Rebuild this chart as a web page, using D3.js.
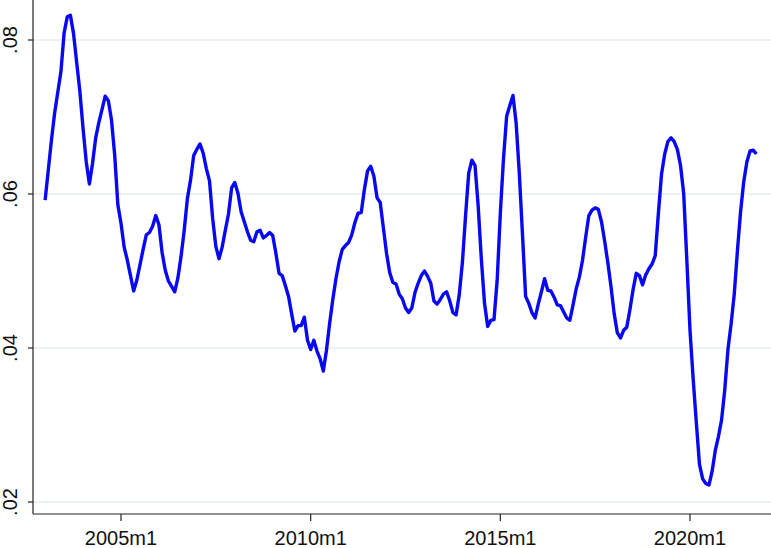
<!DOCTYPE html>
<html>
<head>
<meta charset="utf-8">
<script src="https://cdn.jsdelivr.net/npm/d3@7"></script>
<style>
  html, body { margin: 0; padding: 0; background: #ffffff; }
  svg { display: block; }
  text { font-family: Arial, "Liberation Sans", sans-serif; fill: #111; }
</style>
</head>
<body>
<svg id="chart" width="771" height="548"></svg>
<script>
// Monthly series, 2003m1 .. 2021m10 (month index 0 = 2003m1)
const startYear = 2003;
const values = [
  0.0592, 0.0631, 0.0670, 0.0705, 0.0732, 0.0759, 0.0809, 0.0830, 0.0832, 0.0808,
  0.0770, 0.0733, 0.0685, 0.0642, 0.0613, 0.0640, 0.0673, 0.0693, 0.0710, 0.0727,
  0.0721, 0.0696, 0.0651, 0.0586, 0.0562, 0.0531, 0.0514, 0.0494, 0.0474, 0.0488,
  0.0508, 0.0528, 0.0547, 0.0550, 0.0558, 0.0572, 0.0560, 0.0524, 0.0501, 0.0487,
  0.0480, 0.0473, 0.0491, 0.0519, 0.0553, 0.0594, 0.0618, 0.0650, 0.0658, 0.0665,
  0.0653, 0.0633, 0.0617, 0.0568, 0.0532, 0.0516, 0.0531, 0.0553, 0.0574, 0.0608,
  0.0615, 0.0601, 0.0577, 0.0564, 0.0551, 0.0540, 0.0538, 0.0551, 0.0553, 0.0543,
  0.0546, 0.0550, 0.0546, 0.0523, 0.0497, 0.0494, 0.0481, 0.0467, 0.0444, 0.0422,
  0.0429, 0.0429, 0.0440, 0.0410, 0.0398, 0.0410, 0.0396, 0.0386, 0.0370, 0.0397,
  0.0432, 0.0463, 0.0490, 0.0512, 0.0528, 0.0533, 0.0537, 0.0547, 0.0563, 0.0575,
  0.0576, 0.0606, 0.0630, 0.0636, 0.0623, 0.0595, 0.0589, 0.0556, 0.0523, 0.0498,
  0.0485, 0.0483, 0.0470, 0.0464, 0.0452, 0.0446, 0.0452, 0.0472, 0.0484, 0.0494,
  0.0500, 0.0493, 0.0484, 0.0461, 0.0457, 0.0463, 0.0470, 0.0473, 0.0461, 0.0446,
  0.0443, 0.0469, 0.0511, 0.0572, 0.0627, 0.0644, 0.0637, 0.0584, 0.0515, 0.0458,
  0.0428, 0.0436, 0.0437, 0.0488, 0.0575, 0.0646, 0.0701, 0.0715, 0.0728, 0.0692,
  0.0627, 0.0548, 0.0467, 0.0458, 0.0446, 0.0439, 0.0457, 0.0473, 0.0490, 0.0475,
  0.0474, 0.0466, 0.0456, 0.0455, 0.0447, 0.0439, 0.0436, 0.0456, 0.0477, 0.0492,
  0.0514, 0.0544, 0.0572, 0.0579, 0.0582, 0.0580, 0.0564, 0.0539, 0.0511, 0.0480,
  0.0445, 0.0420, 0.0413, 0.0423, 0.0427, 0.0450, 0.0476, 0.0497, 0.0494, 0.0482,
  0.0495, 0.0503, 0.0509, 0.0520, 0.0575, 0.0626, 0.0652, 0.0668, 0.0673, 0.0668,
  0.0658, 0.0637, 0.0601, 0.0514, 0.0423, 0.0360, 0.0303, 0.0249, 0.0230, 0.0224,
  0.0222, 0.0240, 0.0267, 0.0285, 0.0307, 0.0346, 0.0398, 0.0431, 0.0470, 0.0526,
  0.0577, 0.0616, 0.0642, 0.0656, 0.0657, 0.0652
];
const xTickLabels = ["2005m1", "2010m1", "2015m1", "2020m1"];
const xTickMonths = [24, 84, 144, 204];
const yTickValues = [0.02, 0.04, 0.06, 0.08];
const yTickLabels = [".02", ".04", ".06", ".08"];

const data = values.map((v, i) => ({ m: i, v: v }));

const svg = d3.select("#chart");
const plotLeft = 33, plotRight = 771, plotTop = 0, plotBottom = 514;

const x = d3.scaleLinear().domain([24, 204]).range([121, 690]);
const y = d3.scaleLinear().domain([0.02, 0.08]).range([502, 40]);

// gridlines
svg.append("g").selectAll("line")
  .data(yTickValues)
  .join("line")
  .attr("x1", plotLeft).attr("x2", plotRight)
  .attr("y1", d => y(d)).attr("y2", d => y(d))
  .attr("stroke", "#e6eef0").attr("stroke-width", 1.5);

// line
const line = d3.line().x(d => x(d.m)).y(d => y(d.v)).curve(d3.curveLinear);
svg.append("path")
  .datum(data)
  .attr("d", line)
  .attr("fill", "none")
  .attr("stroke", "#0808f2")
  .attr("stroke-width", 3.4)
  .attr("stroke-linejoin", "round");

// y axis
const yAxis = svg.append("g");
yAxis.append("line")
  .attr("x1", plotLeft).attr("x2", plotLeft)
  .attr("y1", plotTop).attr("y2", plotBottom)
  .attr("stroke", "#222").attr("stroke-width", 1.2);
yAxis.selectAll("line.tick")
  .data(yTickValues)
  .join("line")
  .attr("class", "tick")
  .attr("x1", plotLeft - 5).attr("x2", plotLeft)
  .attr("y1", d => y(d)).attr("y2", d => y(d))
  .attr("stroke", "#222").attr("stroke-width", 1.2);
yAxis.selectAll("text")
  .data(yTickValues)
  .join("text")
  .attr("transform", d => `translate(16.5,${y(d)}) rotate(-90)`)
  .attr("text-anchor", "middle")
  .style("font-size", "20px")
  .text((d, i) => yTickLabels[i]);

// x axis
const xAxis = svg.append("g");
xAxis.append("line")
  .attr("x1", plotLeft).attr("x2", plotRight)
  .attr("y1", plotBottom).attr("y2", plotBottom)
  .attr("stroke", "#222").attr("stroke-width", 1.2);
xAxis.selectAll("line.tick")
  .data(xTickMonths)
  .join("line")
  .attr("class", "tick")
  .attr("x1", d => x(d)).attr("x2", d => x(d))
  .attr("y1", plotBottom).attr("y2", plotBottom + 7)
  .attr("stroke", "#222").attr("stroke-width", 1.2);
xAxis.selectAll("text")
  .data(xTickMonths)
  .join("text")
  .attr("x", d => x(d))
  .attr("y", 545)
  .attr("text-anchor", "middle")
  .style("font-size", "20px")
  .text((d, i) => xTickLabels[i]);
</script>
</body>
</html>
